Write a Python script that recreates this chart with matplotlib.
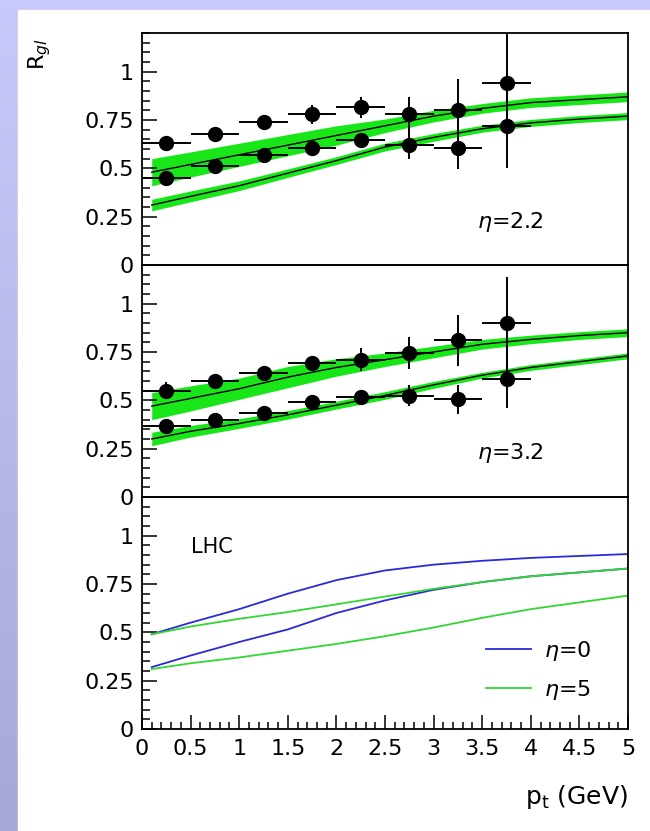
import numpy as np
import matplotlib
matplotlib.use("Agg")
import matplotlib.pyplot as plt
from matplotlib.patches import Rectangle
from matplotlib.ticker import MultipleLocator, FuncFormatter
from matplotlib.lines import Line2D

plt.rcParams['font.family'] = ['DejaVu Sans']
plt.rcParams['mathtext.fontset'] = 'dejavusans'

# data points (bin centres, half width 0.25 GeV)
pt_pts = [0.25, 0.75, 1.25, 1.75, 2.25, 2.75, 3.25, 3.75]
pt_xerr = 0.25

# eta = 2.2
y22_hi = [0.63, 0.68, 0.74, 0.78, 0.815, 0.78, 0.80, 0.94]
e22_hi = [0.035, 0.02, 0.035, 0.05, 0.055, 0.09, 0.16, 0.27]
y22_lo = [0.45, 0.51, 0.57, 0.605, 0.645, 0.62, 0.605, 0.72]
e22_lo = [0.02, 0.025, 0.025, 0.025, 0.035, 0.07, 0.11, 0.22]

# eta = 3.2
y32_hi = [0.55, 0.60, 0.64, 0.695, 0.71, 0.745, 0.81, 0.90]
e32_hi = [0.045, 0.02, 0.02, 0.035, 0.06, 0.085, 0.13, 0.24]
y32_lo = [0.365, 0.40, 0.435, 0.49, 0.515, 0.525, 0.505, 0.61]
e32_lo = [0.02, 0.025, 0.025, 0.03, 0.03, 0.055, 0.075, 0.15]

# theory curves
pt_th = [0.1, 0.5, 1.0, 1.5, 2.0, 2.5, 3.0, 3.5, 4.0, 4.5, 5.0]

b22_hi = [0.48, 0.52, 0.57, 0.62, 0.67, 0.72, 0.77, 0.81, 0.84, 0.855, 0.87]
w22_hi = [0.07, 0.065, 0.06, 0.055, 0.05, 0.035, 0.03, 0.025, 0.025, 0.025, 0.025]
b22_lo = [0.31, 0.355, 0.41, 0.475, 0.54, 0.61, 0.66, 0.705, 0.735, 0.755, 0.77]
w22_lo = [0.03, 0.028, 0.025, 0.022, 0.02, 0.02, 0.02, 0.018, 0.018, 0.018, 0.018]

b32_hi = [0.47, 0.51, 0.56, 0.62, 0.67, 0.71, 0.75, 0.79, 0.815, 0.835, 0.85]
w32_hi = [0.07, 0.065, 0.055, 0.055, 0.045, 0.035, 0.03, 0.025, 0.022, 0.02, 0.02]
b32_lo = [0.30, 0.34, 0.38, 0.425, 0.475, 0.525, 0.58, 0.63, 0.67, 0.70, 0.73]
w32_lo = [0.035, 0.03, 0.025, 0.022, 0.02, 0.02, 0.018, 0.015, 0.015, 0.015, 0.015]

# LHC
lhc_eta0_hi = [0.49, 0.55, 0.62, 0.70, 0.77, 0.82, 0.85, 0.87, 0.885, 0.895, 0.905]
lhc_eta0_lo = [0.32, 0.38, 0.45, 0.515, 0.60, 0.665, 0.72, 0.76, 0.79, 0.81, 0.83]
lhc_eta5_hi = [0.49, 0.53, 0.57, 0.605, 0.645, 0.685, 0.725, 0.76, 0.79, 0.81, 0.83]
lhc_eta5_lo = [0.31, 0.34, 0.37, 0.405, 0.44, 0.48, 0.525, 0.575, 0.62, 0.655, 0.69]

band_col = '#19e619'
blue = '#2a2ad8'
green = '#33d633'

fig = plt.figure(figsize=(6.5, 8.31), dpi=100)

# lavender frame round the page
bg = fig.add_axes([0, 0, 1, 1], zorder=-5)
grad = np.linspace(0, 1, 200)
cols = np.zeros((200, 1, 3))
cols[:, 0, 0] = (200 - 32 * grad) / 255
cols[:, 0, 1] = (200 - 32 * grad) / 255
cols[:, 0, 2] = (250 - 34 * grad) / 255
bg.imshow(cols, aspect='auto', extent=[0, 1, 0, 1])
bg.add_patch(Rectangle((18 / 650, 0), 1, 1 - 10 / 831, color='white'))
bg.set_xlim(0, 1)
bg.set_ylim(0, 1)
bg.axis('off')

left, right = 142 / 650, 628 / 650
bottom, top = 1 - 729 / 831, 1 - 33 / 831
gs = fig.add_gridspec(3, 1, left=left, right=right, bottom=bottom, top=top, hspace=0)
axes = [fig.add_subplot(gs[i]) for i in range(3)]

def fmt(v, pos):
    return '%g' % round(v, 3)

for ax in axes:
    ax.set_xlim(0, 5)
    ax.set_ylim(0, 1.2)
    ax.yaxis.set_major_locator(MultipleLocator(0.25))
    ax.yaxis.set_minor_locator(MultipleLocator(0.05))
    ax.yaxis.set_major_formatter(FuncFormatter(fmt))
    ax.xaxis.set_major_locator(MultipleLocator(0.5))
    ax.xaxis.set_minor_locator(MultipleLocator(0.1))
    ax.xaxis.set_major_formatter(FuncFormatter(fmt))
    ax.tick_params(axis='y', which='major', direction='in', length=11, width=1.1, labelsize=16, pad=6)
    ax.tick_params(axis='y', which='minor', direction='in', length=6, width=1.1)
    ax.tick_params(axis='x', which='major', direction='in', length=10, width=1.1, labelsize=16, pad=7)
    ax.tick_params(axis='x', which='minor', direction='in', length=5, width=1.1)
    for sp in ax.spines.values():
        sp.set_linewidth(1.3)
    ax.set_facecolor('none')

for ax in axes[:2]:
    ax.tick_params(axis='x', which='both', bottom=False, labelbottom=False)

def draw_band(ax, c, w):
    c = np.array(c)
    w = np.array(w)
    ax.fill_between(pt_th, c - w, c + w, color=band_col, lw=0, zorder=1)
    ax.plot(pt_th, c, color='black', lw=1.0, zorder=2)

def draw_pts(ax, y, e):
    ax.errorbar(pt_pts, y, xerr=pt_xerr, yerr=e, fmt='o', color='black',
                ms=10, elinewidth=1.4, capsize=0, zorder=3)

# eta = 2.2
ax = axes[0]
draw_band(ax, b22_hi, w22_hi)
draw_band(ax, b22_lo, w22_lo)
draw_pts(ax, y22_hi, e22_hi)
draw_pts(ax, y22_lo, e22_lo)
ax.text(3.45, 0.22, r'$\eta$=2.2', fontsize=16, va='center')

# eta = 3.2
ax = axes[1]
draw_band(ax, b32_hi, w32_hi)
draw_band(ax, b32_lo, w32_lo)
draw_pts(ax, y32_hi, e32_hi)
draw_pts(ax, y32_lo, e32_lo)
ax.text(3.45, 0.23, r'$\eta$=3.2', fontsize=16, va='center')

# LHC
ax = axes[2]
ax.plot(pt_th, lhc_eta0_hi, color=blue, lw=1.3)
ax.plot(pt_th, lhc_eta0_lo, color=blue, lw=1.3)
ax.plot(pt_th, lhc_eta5_hi, color=green, lw=1.3)
ax.plot(pt_th, lhc_eta5_lo, color=green, lw=1.3)
ax.text(0.5, 0.94, 'LHC', fontsize=15, va='center')
handles = [Line2D([], [], color=blue, lw=1.3), Line2D([], [], color=green, lw=1.3)]
ax.legend(handles, [r'$\eta$=0', r'$\eta$=5'], loc='lower left', bbox_to_anchor=(0.69, 0.08),
          frameon=False, fontsize=16, handlelength=2.0, labelspacing=0.65, handletextpad=0.6,
          borderaxespad=0)

fig.text(40 / 650, 1 - 38 / 831, r'R$_{gl}$', rotation=90, va='top', ha='center', fontsize=16)
fig.text(right, 1 - 797 / 831, r'p$_{\rm t}$ (GeV)', ha='right', va='center', fontsize=18)

fig.savefig('out.png', dpi=100)
